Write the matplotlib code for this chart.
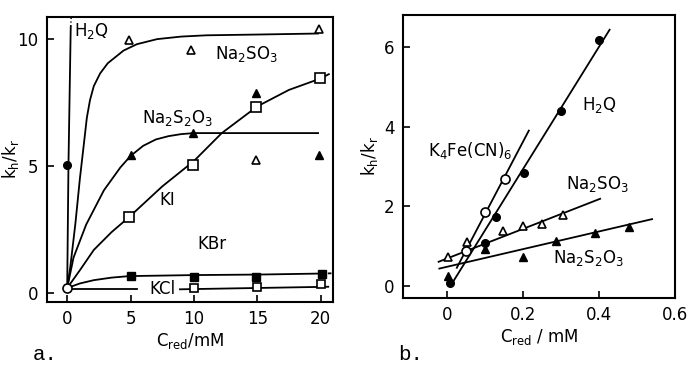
import matplotlib.pyplot as plt

plt.rcParams['font.family'] = ['Liberation Sans Narrow', 'DejaVu Sans']
plt.rcParams['mathtext.default'] = 'regular'

# ---- panel a: k_h/k_r vs c_red (mM) ----
a_origin_x = [0]
a_origin_y = [0.2]

a_h2q_x = [0]
a_h2q_y = [5.05]
a_h2q_line_x = [0, 0.1, 0.28]
a_h2q_line_y = [0.2, 5.05, 10.5]
a_h2q_dot_x = [0.28, 0.32]
a_h2q_dot_y = [10.5, 10.9]

a_na2so3_x = [4.9, 9.8, 14.9, 19.9]
a_na2so3_y = [9.96, 9.57, 5.24, 10.38]
a_na2so3_cx = [0, 0.25, 0.65, 1.0, 1.3, 1.55, 1.8, 2.1, 2.6, 3.2, 4.45, 5.5, 7.1, 9, 11, 15, 19.8]
a_na2so3_cy = [0.2, 1.05, 2.75, 4.5, 5.8, 6.9, 7.6, 8.15, 8.65, 9.05, 9.55, 9.8, 10.0, 10.1, 10.15, 10.18, 10.22]

a_na2s2o3_x = [5, 9.9, 14.9, 19.9]
a_na2s2o3_y = [5.43, 6.31, 7.88, 5.43]
a_na2s2o3_cx = [0, 0.5, 1.5, 2.9, 4.2, 5, 6, 7, 8, 9, 10, 19.8]
a_na2s2o3_cy = [0.2, 1.4, 2.7, 4.05, 4.95, 5.4, 5.8, 6.05, 6.18, 6.26, 6.3, 6.3]

a_ki_x = [4.9, 9.9, 14.9, 19.95]
a_ki_y = [3.0, 5.04, 7.33, 8.45]
a_ki_cx = [0, 1.0, 2.1, 3.5, 4.9, 7.5, 10, 12.2, 15, 17.5, 20, 20.65]
a_ki_cy = [0.2, 0.9, 1.7, 2.4, 3.0, 4.2, 5.2, 6.3, 7.35, 8.0, 8.45, 8.62]

a_kbr_x = [5, 10, 14.9, 20.1]
a_kbr_y = [0.67, 0.62, 0.62, 0.75]
a_kbr_cx = [0, 1.0, 2.1, 3.5, 4.9, 10, 15, 20]
a_kbr_cy = [0.2, 0.38, 0.51, 0.61, 0.67, 0.71, 0.73, 0.77]
a_kbr_tail_x = [20, 20.9]
a_kbr_tail_y = [0.77, 0.78]

a_kcl_x = [10, 15, 20]
a_kcl_y = [0.22, 0.25, 0.35]
a_kcl_l1_x = [0, 5.5]
a_kcl_l1_y = [0.16, 0.16]
a_kcl_l2_x = [8.9, 20.6]
a_kcl_l2_y = [0.15, 0.25]

# ---- panel b ----
b_h2q_x = [0.007, 0.1, 0.129, 0.201, 0.3, 0.399]
b_h2q_y = [0.07, 1.09, 1.73, 2.83, 4.4, 6.16]
b_h2q_fit_x = [0.008, 0.428]
b_h2q_fit_y = [0.0, 6.43]

b_fe_x = [0.049, 0.099, 0.151]
b_fe_y = [0.88, 1.85, 2.68]
b_fe_fit_x = [0.025, 0.215]
b_fe_fit_y = [0.46, 3.9]

b_na2so3_x = [0.003, 0.051, 0.148, 0.2, 0.249, 0.304]
b_na2so3_y = [0.72, 1.1, 1.38, 1.51, 1.55, 1.78]
b_na2so3_fit_x = [-0.023, 0.403]
b_na2so3_fit_y = [0.61, 2.19]

b_na2s2o3_x = [0.003, 0.1, 0.2, 0.287, 0.389, 0.479]
b_na2s2o3_y = [0.26, 0.92, 0.74, 1.14, 1.34, 1.49]
b_na2s2o3_fit_x = [-0.021, 0.54]
b_na2s2o3_fit_y = [0.44, 1.68]

fig = plt.figure(figsize=(6.9, 3.74), dpi=100)
axa = fig.add_axes([0.068, 0.1925, 0.415, 0.762])
axb = fig.add_axes([0.584, 0.203, 0.394, 0.757])

lw = 1.3
ms = 5.5
k = 'black'

# panel a curves
axa.plot(a_h2q_line_x, a_h2q_line_y, color=k, lw=lw)
axa.plot(a_h2q_dot_x, a_h2q_dot_y, color=k, lw=1, ls=':')
axa.plot(a_na2so3_cx, a_na2so3_cy, color=k, lw=lw)
axa.plot(a_na2s2o3_cx, a_na2s2o3_cy, color=k, lw=lw)
axa.plot(a_ki_cx, a_ki_cy, color=k, lw=lw)
axa.plot(a_kbr_cx, a_kbr_cy, color=k, lw=lw)
axa.plot(a_kbr_tail_x, a_kbr_tail_y, color=k, lw=lw, ls=(0, (2, 2)))
axa.plot(a_kcl_l1_x, a_kcl_l1_y, color=k, lw=lw)
axa.plot(a_kcl_l2_x, a_kcl_l2_y, color=k, lw=lw)

# panel a markers
axa.plot(a_h2q_x, a_h2q_y, 'o', color=k, ms=ms)
axa.plot(a_na2so3_x, a_na2so3_y, '^', mfc='white', mec=k, mew=1.2, ms=ms)
axa.plot(a_na2s2o3_x, a_na2s2o3_y, '^', color=k, ms=ms)
axa.plot(a_ki_x, a_ki_y, 's', mfc='white', mec=k, mew=1.2, ms=ms + 1)
axa.plot(a_kbr_x, a_kbr_y, 's', color=k, ms=ms)
axa.plot(a_kcl_x, a_kcl_y, 's', mfc='white', mec=k, mew=1.2, ms=ms)
axa.plot(a_origin_x, a_origin_y, 'o', mfc='white', mec=k, mew=1.2, ms=ms + 1, zorder=5)

fs = 12
axa.text(0.5, 10.3, r'H$_2$Q', fontsize=fs, va='center')
axa.text(11.7, 9.4, r'Na$_2$SO$_3$', fontsize=fs, va='center')
axa.text(5.9, 6.9, r'Na$_2$S$_2$O$_3$', fontsize=fs, va='center')
axa.text(7.3, 3.65, 'KI', fontsize=fs, va='center')
axa.text(10.3, 1.95, 'KBr', fontsize=fs, va='center')
axa.text(6.5, 0.15, 'KCl', fontsize=fs, va='center')

axa.set_xlim(-1.6, 21.0)
axa.set_ylim(-0.35, 10.87)
axa.set_xticks([0, 5, 10, 15, 20])
axa.set_yticks([0, 5, 10])
axa.set_xlabel(r'C$_{red}$/mM', fontsize=fs, labelpad=2)
axa.set_ylabel(r'k$_h$/k$_r$', fontsize=fs)
axa.yaxis.set_label_coords(-0.09, 0.5)

# panel b
axb.plot(b_h2q_fit_x, b_h2q_fit_y, color=k, lw=lw)
axb.plot(b_fe_fit_x, b_fe_fit_y, color=k, lw=lw)
axb.plot(b_na2so3_fit_x, b_na2so3_fit_y, color=k, lw=lw)
axb.plot(b_na2s2o3_fit_x, b_na2s2o3_fit_y, color=k, lw=lw)

axb.plot(b_h2q_x, b_h2q_y, 'o', color=k, ms=ms)
axb.plot(b_fe_x, b_fe_y, 'o', mfc='white', mec=k, mew=1.2, ms=ms + 1)
axb.plot(b_na2so3_x, b_na2so3_y, '^', mfc='white', mec=k, mew=1.2, ms=ms)
axb.plot(b_na2s2o3_x, b_na2s2o3_y, '^', color=k, ms=ms)

axb.text(0.356, 4.55, r'H$_2$Q', fontsize=fs, va='center')
axb.text(-0.052, 3.4, r'K$_4$Fe(CN)$_6$', fontsize=fs, va='center')
axb.text(0.312, 2.55, r'Na$_2$SO$_3$', fontsize=fs, va='center')
axb.text(0.28, 0.7, r'Na$_2$S$_2$O$_3$', fontsize=fs, va='center')

axb.set_xlim(-0.117, 0.6)
axb.set_ylim(-0.3, 6.8)
axb.set_xticks([0, 0.2, 0.4, 0.6])
axb.set_xticklabels(['0', '0.2', '0.4', '0.6'])
axb.set_yticks([0, 2, 4, 6])
axb.set_xlabel(r'C$_{red}$ / mM', fontsize=fs, labelpad=2)
axb.set_ylabel(r'k$_h$/k$_r$', fontsize=fs)
axb.yaxis.set_label_coords(-0.085, 0.5)

for ax in (axa, axb):
    for s in ax.spines.values():
        s.set_linewidth(1.5)
    ax.tick_params(direction='in', length=5, width=1.2, labelsize=fs, pad=6)

fig.text(33 / 690, 1 - 355 / 374, 'a.', family='Liberation Mono', fontsize=15, va='center')
fig.text(398 / 690, 1 - 355 / 374, 'b.', family='Liberation Mono', fontsize=15, va='center')

fig.savefig('out.png', dpi=100)
